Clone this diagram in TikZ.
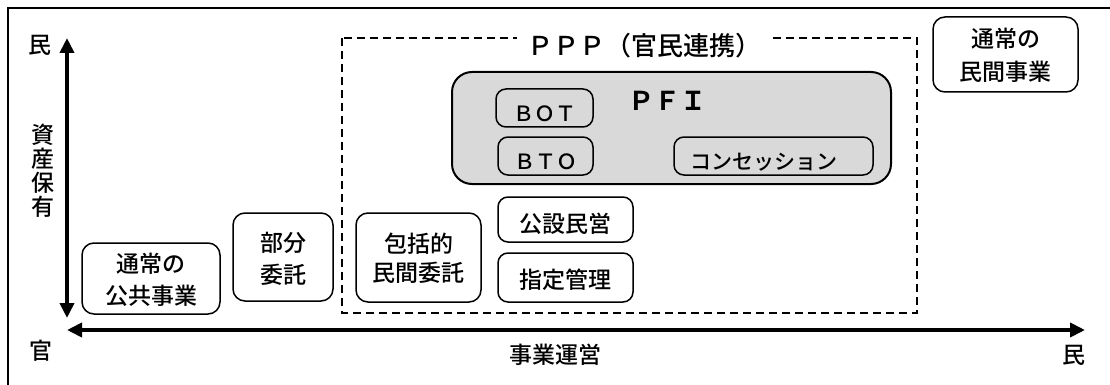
\documentclass[tikz,border=0pt]{standalone}
\usepackage{fontspec}
\setmainfont{Noto Sans CJK JP Medium}[BoldFont=Noto Sans CJK JP Bold]
\usetikzlibrary{arrows.meta}
\begin{document}
\begin{tikzpicture}[x=1pt,y=-1pt,
  box/.style={draw, line width=1.5pt, rounded corners=10pt, inner sep=0pt},
  txt/.style={font=\fontsize{23}{32}\selectfont, align=center, inner sep=0pt},
  small/.style={font=\fontsize{21}{25}\selectfont, inner sep=0pt},
  axis/.style={line width=4pt, {Triangle[length=15pt,width=14pt]}-{Triangle[length=15pt,width=14pt]}},
]
\useasboundingbox (0,0) rectangle (1110,385);
\fill[white] (0,0) rectangle (1110,385);
\draw[line width=2.5pt] (8,400) -- (8,8) -- (1120,8);

% axes
\coordinate (vtop) at (67,38);
\coordinate (vbot) at (67,318);
\coordinate (hleft) at (67,330);
\coordinate (hright) at (1085,330);
\draw[axis] (vtop) -- (vbot);
\draw[axis] (hleft) -- (hright);

\node[txt] (ytop) at (40,45) {民};
\node[txt, font=\fontsize{23}{24}\selectfont] (ylab) at (43,171) {資\\産\\保\\有};
\node[txt] (xleft) at (41,351) {官};
\node[txt] (xright) at (1074,355) {民};
\node[txt] (xlab) at (555,355) {事業運営};

% PPP dashed region
\draw[dashed, dash pattern=on 8pt off 5pt, line width=1.3pt] (342,38) rectangle (917,313);
\node[fill=white, inner xsep=10pt, inner ysep=2pt, font=\fontsize{26}{30}\selectfont] (ppp) at (644,46) {ＰＰＰ（官民連携）};

% PFI
\node[box, rounded corners=20pt, line width=2pt, fill=black!15, minimum width=439pt, minimum height=112pt] (pfi) at (671.5,128) {};
\node[font=\fontsize{26}{30}\selectfont\bfseries, inner sep=0pt] (pfiT) at (667,101) {ＰＦＩ};

\node[box, minimum width=97pt, minimum height=38pt] (bot) at (544.5,108) {};
\node[small] (botT) at (544.5,114) {ＢＯＴ};
\node[box, minimum width=95pt, minimum height=38pt] (bto) at (545.5,156) {};
\node[small] (btoT) at (545.5,162) {ＢＴＯ};
\node[box, minimum width=199pt, minimum height=38pt] (conc) at (773.5,156) {};
\node[small] (concT) at (764,162) {コンセッション};

% other boxes
\node[box, minimum width=138pt, minimum height=71pt, rounded corners=12pt] (kokyo) at (151,278.5) {};
\node[txt] (kokyoT) at (151,280) {通常の\\公共事業};

\node[box, minimum width=100pt, minimum height=88pt, rounded corners=12pt] (bubun) at (283,257) {};
\node[txt] (bubunT) at (283,259) {部分\\委託};

\node[box, minimum width=125pt, minimum height=89pt, rounded corners=12pt] (hokatsu) at (418.5,257.5) {};
\node[txt, font=\fontsize{23}{29}\selectfont] (hokatsuT) at (418.5,258.5) {包括的\\民間委託};

\node[box, minimum width=135pt, minimum height=45pt] (kosetsu) at (565.5,219.5) {};
\node[txt] (kosetsuT) at (565.5,224) {公設民営};

\node[box, minimum width=135pt, minimum height=49pt] (shitei) at (565.5,277.5) {};
\node[txt] (shiteiT) at (565.5,279.5) {指定管理};

\node[box, minimum width=145pt, minimum height=75pt, rounded corners=12pt] (minkan) at (1005.5,54.5) {};
\node[txt, font=\fontsize{23}{33}\selectfont] (minkanT) at (1005.5,55.5) {通常の\\民間事業};
\end{tikzpicture}
\end{document}
